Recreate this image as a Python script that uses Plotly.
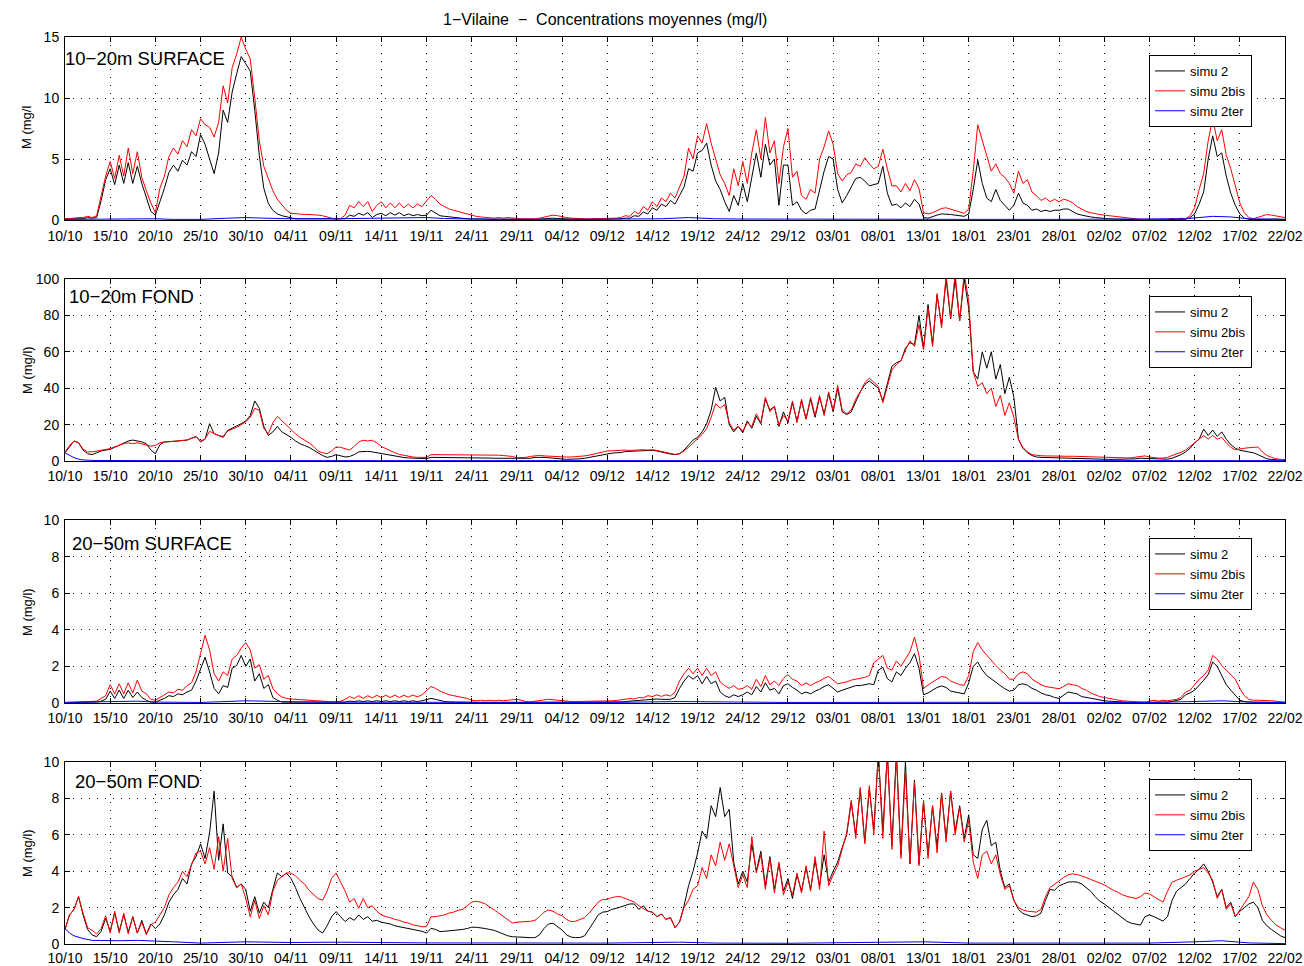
import plotly.graph_objects as go

# ---------------- data (0.5-day sampling) ----------------
TICK_LABELS = ["10/10", "15/10", "20/10", "25/10", "30/10", "04/11", "09/11", "14/11",
               "19/11", "24/11", "29/11", "04/12", "09/12", "14/12", "19/12", "24/12",
               "29/12", "03/01", "08/01", "13/01", "18/01", "23/01", "28/01", "02/02",
               "07/02", "12/02", "17/02", "22/02"]
TICK_DAYS = [0, 5, 10, 15, 20, 25, 30, 35, 40, 45, 50, 55, 60, 65, 70, 75, 80, 85, 90,
             95, 100, 105, 110, 115, 120, 125, 130, 135]
N_SAMPLES = 271
SAMPLE_STEP = 0.5
SERIES_NAMES = ["simu 2", "simu 2bis", "simu 2ter"]
PANEL_TITLES = ["10\u221220m SURFACE", "10\u221220m FOND", "20\u221250m SURFACE", "20\u221250m FOND"]
Y_TITLES = ["M (mg/l", "M (mg/l)", "M (mg/l)", "M (mg/l)"]
Y_MAX = [15, 100, 10, 10]
Y_TICKS = [[0, 5, 10, 15], [0, 20, 40, 60, 80, 100], [0, 2, 4, 6, 8, 10], [0, 2, 4, 6, 8, 10]]

# Panel 1 : 10-20m SURFACE
P1_SIMU2 = [
    0.1, 0.1, 0.1, 0.15, 0.1, 0.2, 0.15, 0.2, 1.6, 3.3,
    4.2, 2.9, 4.5, 3.0, 4.7, 3.0, 4.4, 3.0, 1.9, 0.7,
    0.4, 1.5, 2.6, 3.9, 4.5, 4.0, 4.9, 4.5, 5.6, 5.2,
    7.0, 6.2, 4.9, 3.8, 5.5, 9.0, 8.0, 10.5, 12.0, 13.4,
    12.8, 12.2, 9.0, 5.3, 2.6, 1.35, 0.8, 0.5, 0.35, 0.25,
    0.15, 0.1, 0.1, 0.1, 0.1, 0.1, 0.1, 0.1, 0.1, 0.1,
    0.05, 0.05, 0.1, 0.4, 0.3, 0.55, 0.4, 0.6, 0.2, 0.45,
    0.55, 0.35, 0.6, 0.4, 0.6, 0.35, 0.5, 0.35, 0.45, 0.35,
    0.4, 0.8, 0.55, 0.35, 0.3, 0.25, 0.2, 0.15, 0.12, 0.1,
    0.1, 0.08, 0.07, 0.06, 0.06, 0.05, 0.06, 0.05, 0.06, 0.05,
    0.05, 0.05, 0.05, 0.05, 0.05, 0.08, 0.1, 0.12, 0.15, 0.12,
    0.1, 0.07, 0.05, 0.05, 0.05, 0.05, 0.05, 0.05, 0.05, 0.05,
    0.05, 0.05, 0.08, 0.1, 0.15, 0.15, 0.35, 0.3, 0.65, 0.5,
    1.0, 0.8, 1.3, 1.1, 1.6, 1.3, 2.0, 2.7, 4.2, 4.0,
    5.5, 5.7, 6.3, 4.5, 3.2, 2.5, 1.5, 0.7, 2.0, 1.2,
    3.0, 1.5, 3.5, 5.5, 3.5, 6.2, 4.5, 5.0, 1.2, 4.5,
    4.5, 1.2, 1.5, 0.8, 0.5, 0.8, 0.9, 2.5, 4.0, 5.2,
    5.0, 2.5, 1.4, 2.0, 2.7, 3.4, 3.5, 3.2, 2.8, 2.9,
    3.0, 4.4, 2.2, 1.2, 1.3, 1.0, 1.4, 1.1, 1.7, 1.3,
    0.2, 0.15, 0.3, 0.4, 0.5, 0.5, 0.45, 0.4, 0.35, 0.3,
    0.5, 2.5, 4.9, 3.0, 1.8, 1.5, 2.5, 1.6, 1.2, 0.8,
    1.2, 2.2, 1.4, 1.2, 0.8, 0.9, 0.7, 0.8, 0.7, 0.8,
    0.8, 0.9, 0.9, 0.7, 0.5, 0.4, 0.3, 0.25, 0.2, 0.15,
    0.12, 0.1, 0.08, 0.06, 0.05, 0.04, 0.03, 0.02, 0.02, 0.02,
    0.02, 0.02, 0.02, 0.03, 0.03, 0.03, 0.04, 0.05, 0.06, 0.2,
    0.5, 1.3, 2.3, 5.0, 6.9, 5.2, 5.5, 3.6, 2.2, 1.2,
    0.5, 0.15, 0.05, 0.03, 0.05, 0.08, 0.1, 0.1, 0.08, 0.06,
    0.05]
P1_SIMU2BIS = [
    0.1, 0.1, 0.15, 0.2, 0.2, 0.3, 0.2, 0.35, 1.9, 3.6,
    4.8, 3.4, 5.3, 3.6, 5.9, 3.8, 5.6, 3.5, 2.4, 1.4,
    0.6, 2.6, 3.6, 5.2, 5.9, 5.4, 6.5, 6.0, 7.4, 6.9,
    8.3, 7.8, 7.6, 6.8, 8.0, 11.0, 9.6, 12.5, 13.6, 15.0,
    14.0, 13.2, 10.0, 6.5, 4.4, 3.4, 2.4, 1.7, 1.25, 0.8,
    0.55, 0.5, 0.45, 0.45, 0.45, 0.45, 0.4, 0.35, 0.25, 0.15,
    0.05, 0.1, 0.4, 1.2, 1.0, 1.5, 1.1, 1.5, 0.7, 1.2,
    1.5, 1.0, 1.4, 1.0, 1.4, 1.0, 1.3, 1.0, 1.3, 1.1,
    1.6, 2.0, 1.7, 1.3, 1.1, 0.9, 0.8, 0.7, 0.6, 0.5,
    0.35, 0.3, 0.25, 0.2, 0.2, 0.15, 0.2, 0.15, 0.2, 0.15,
    0.15, 0.1, 0.1, 0.08, 0.1, 0.15, 0.25, 0.35, 0.4, 0.35,
    0.25, 0.2, 0.15, 0.12, 0.1, 0.1, 0.1, 0.1, 0.1, 0.1,
    0.1, 0.1, 0.15, 0.2, 0.35, 0.3, 0.7, 0.5, 1.1, 0.8,
    1.5, 1.1, 1.8, 1.5, 2.2, 1.8, 2.7, 3.6, 5.9, 5.0,
    6.9, 6.3, 7.9, 6.3, 5.0, 3.7, 3.0, 2.0, 4.2, 2.8,
    4.8, 3.0, 5.5, 7.4, 5.0, 8.4, 5.5, 6.5, 3.0, 6.0,
    7.5, 3.5, 4.0, 2.0, 1.7, 2.5, 2.2, 5.0, 6.0, 7.3,
    6.2, 3.8, 3.2, 3.7, 3.9, 4.6, 4.4, 5.1, 4.6, 4.2,
    4.4, 5.8, 4.2, 2.8, 2.8, 2.3, 3.0, 2.4, 3.3, 2.6,
    0.6, 0.5, 0.6, 0.8, 0.95, 1.0, 0.9, 0.8, 0.65, 0.55,
    0.9, 4.0, 7.8, 6.6, 5.2, 4.0, 4.6, 3.8, 3.5, 3.0,
    2.2, 4.0, 3.0, 3.3, 2.3, 2.0, 1.6, 1.8, 1.5, 1.7,
    1.5, 1.7, 1.6, 1.4, 1.1, 0.9, 0.7, 0.6, 0.5, 0.45,
    0.4, 0.35, 0.3, 0.25, 0.2, 0.15, 0.1, 0.08, 0.05, 0.05,
    0.05, 0.08, 0.05, 0.1, 0.06, 0.12, 0.08, 0.15, 0.1, 0.35,
    1.0, 2.5, 3.8, 6.5, 8.3, 6.5, 7.4, 5.3, 4.2, 2.8,
    1.4, 0.6, 0.2, 0.1, 0.2, 0.35, 0.45, 0.4, 0.35, 0.3,
    0.2]
P1_TER_DAYS = [0, 3, 5, 8, 10, 12, 15, 18, 20, 22, 25, 30, 35, 38, 40, 42, 45, 55, 60, 66,
               69, 72, 75, 85, 90, 100, 110, 120, 124, 127, 129, 131, 135]
P1_SIMU2TER = [0.05, 0.08, 0.1, 0.12, 0.1, 0.05, 0.05, 0.15, 0.2, 0.15, 0.1, 0.1, 0.12, 0.18,
               0.2, 0.12, 0.08, 0.05, 0.05, 0.1, 0.2, 0.1, 0.08, 0.05, 0.05, 0.05, 0.05, 0.05,
               0.1, 0.3, 0.25, 0.1, 0.05]

# Panel 2 : 10-20m FOND
P2_SIMU2 = [
    4.5, 8, 11, 10, 6, 4, 3.5, 4.5, 5.5, 6,
    6.4, 7.5, 8.6, 9.5, 11, 11.5, 11, 10.5, 9.5, 6,
    4, 9, 10.4, 10.5, 10.8, 11, 11.3, 11.5, 12.5, 13.5,
    10.5, 12, 20.5, 15, 14, 13, 16.8, 18, 19, 20.5,
    22, 25, 33, 29, 19, 14, 16, 19, 16, 14.5,
    13, 11, 9.5, 8.5, 7.5, 6, 4.5, 3, 2, 2.5,
    3.5, 2.8, 2.2, 2.5, 3.5, 5, 5.3, 5.3, 5, 4.5,
    4, 3.5, 3, 2.6, 2.2, 1.9, 1.7, 1.5, 1.4, 1.3,
    1.3, 2, 2, 1.9, 1.9, 1.9, 2, 1.9, 2, 2,
    2, 1.9, 1.8, 1.7, 1.6, 1.5, 1.5, 1.4, 1.4, 1.3,
    1.3, 1.2, 1.2, 1.5, 2.0, 2.2, 2.0, 1.8, 1.5, 1.2,
    0.9, 0.9, 1.0, 1.0, 1.2, 1.5, 2.0, 2.5, 3.0, 3.5,
    4.0, 4.3, 4.5, 4.6, 5.2, 5.3, 5.5, 5.7, 5.8, 5.9,
    5.9, 5.5, 4.8, 4.2, 3.8, 3.5, 4.0, 6.0, 8.5, 11.5,
    13, 16, 20.5, 28, 40.5, 33, 35, 20, 16, 19,
    15.5, 22, 18, 24.5, 20.5, 34, 28, 30, 19, 27,
    21, 32, 22, 33, 23, 34, 24, 35, 26, 37,
    27, 40, 27, 25.5, 27, 33, 38, 42, 44, 42,
    40, 33, 42, 52, 54, 55, 62, 65, 64, 80,
    62, 86, 64, 91, 75, 100, 78, 100, 77, 100,
    84, 49, 45, 60, 51, 60, 45, 53, 37, 46,
    35, 12, 7, 4.5, 3, 2.2, 2, 1.9, 1.8, 1.8,
    1.8, 1.7, 1.7, 1.6, 1.5, 1.4, 1.3, 1.2, 1.1, 1.0,
    0.9, 0.9, 0.9, 0.9, 0.9, 0.9, 1.0, 1.2, 1.5, 1.4,
    1.2, 1.0, 0.9, 0.9, 1.0, 1.5, 2.5, 3.5, 5, 7,
    10, 12, 17.5, 14, 17, 13.5, 16, 12, 9, 7,
    5.9, 5.5, 5, 4.5, 3.5, 2.2, 1.2, 0.8, 0.6, 0.5,
    0.4]
P2_SIMU2BIS = [
    5, 8.5, 11, 10, 6.5, 5, 5, 5.5, 6, 6.5,
    6.8, 7.8, 8.8, 9.5, 10, 9.5, 10, 9.5, 8.8, 8.2,
    8.5, 10, 10.5, 10.5, 10.8, 11, 11.3, 11.5, 12.5, 13.2,
    11, 12, 16.3, 15, 14, 13.5, 16.5, 17.5, 18.5, 20,
    21.5, 24, 29, 27.8, 18, 15, 21, 24.5, 22, 19.5,
    17.5, 15, 13, 11.5, 10, 8, 5.5, 4.5, 4, 5.5,
    7.7, 7.5, 6.8, 6, 8, 10.5, 11.4, 11, 11.4, 10,
    8, 6.8, 5.5, 4.5, 3.6, 3, 2.6, 2.2, 2, 1.8,
    2, 3.5, 3.5, 3.3, 3.3, 3.2, 3.3, 3.2, 3.4, 3.5,
    3.5, 3.4, 3.5, 3.3, 3.4, 3.2, 3.2, 3, 2.8, 2.5,
    1.8, 1.8, 2.0, 2.5, 3.0, 3.1, 2.8, 2.6, 2.4, 2.3,
    2.2, 2.2, 2.2, 2.3, 2.5, 2.8, 3.2, 3.8, 4.4, 5.0,
    5.5, 5.6, 5.8, 5.6, 6.0, 5.8, 6.0, 5.9, 6.2, 6.0,
    6.2, 5.8, 5.2, 4.6, 4.0, 3.6, 4.0, 5.5, 7.5, 10.0,
    12, 14.5, 17.8, 24, 31.5, 29, 31, 21, 17, 19,
    16.5, 21, 19, 26, 21, 35, 27, 30, 19.5, 25,
    22, 33, 21, 34, 23, 35, 25, 36, 25, 38,
    28, 41.6, 28, 26, 28, 34, 38, 43, 45.5, 43,
    41, 32, 41, 50, 53, 55, 61, 66, 63, 75,
    61, 84, 63, 92, 73, 102, 79, 103, 77, 103,
    88, 49, 41, 43, 37, 40, 30, 36, 25, 32,
    24, 12, 7.5, 5, 3.5, 3.1, 2.9, 2.8, 2.7, 2.7,
    2.7, 2.7, 2.6, 2.6, 2.5, 2.4, 2.3, 2.2, 2.1, 2.0,
    1.9, 1.8, 1.8, 1.7, 1.7, 1.7, 1.8, 2.2, 2.7, 2.8,
    2.2, 1.7, 1.6, 1.6, 2, 3, 3.8, 4.8, 6, 8,
    9.5, 11.5, 14, 12, 14, 12, 13, 10, 7.5, 6.2,
    6.8, 7, 7.3, 7.5, 7.7, 5, 3, 2, 1.2, 0.9,
    0.8]
P2_TER_DAYS = [0, 0.5, 1, 1.5, 2, 3, 5, 10, 30, 60, 70, 90, 100, 110, 125, 128, 135]
P2_SIMU2TER = [4.5, 3, 1.8, 1, 0.6, 0.3, 0.2, 0.2, 0.2, 0.2, 0.3, 0.2, 0.2, 0.2, 0.3, 0.5, 0.2]

# Panel 3 : 20-50m SURFACE
P3_SIMU2 = [
    0.02, 0.02, 0.03, 0.03, 0.03, 0.04, 0.05, 0.05, 0.1, 0.2,
    0.65, 0.25, 0.7, 0.25, 0.7, 0.3, 0.6, 0.3, 0.15, 0.05,
    0.05, 0.15, 0.25, 0.4, 0.35, 0.5, 0.45, 0.6, 0.7, 1.2,
    1.9, 2.5, 1.7, 0.8, 0.5, 0.95, 0.85, 1.9, 2.05, 2.6,
    2.0, 2.4, 1.2, 1.6, 0.8, 1.0, 0.3, 0.15, 0.05, 0.05,
    0.03, 0.03, 0.03, 0.03, 0.03, 0.03, 0.03, 0.03, 0.03, 0.03,
    0.03, 0.03, 0.05, 0.1, 0.08, 0.12, 0.08, 0.12, 0.08, 0.12,
    0.08, 0.12, 0.08, 0.12, 0.08, 0.12, 0.08, 0.12, 0.08, 0.12,
    0.2, 0.25, 0.2, 0.12, 0.08, 0.06, 0.05, 0.04, 0.04, 0.03,
    0.03, 0.03, 0.03, 0.03, 0.03, 0.03, 0.03, 0.03, 0.03, 0.03,
    0.03, 0.03, 0.02, 0.02, 0.03, 0.05, 0.06, 0.06, 0.05, 0.04,
    0.03, 0.03, 0.03, 0.03, 0.03, 0.03, 0.03, 0.03, 0.03, 0.03,
    0.03, 0.04, 0.05, 0.06, 0.08, 0.1, 0.1, 0.12, 0.15, 0.18,
    0.2, 0.22, 0.2, 0.22, 0.2, 0.3, 0.8, 1.2, 1.5, 1.3,
    1.5, 1.05, 1.45, 1.05, 1.2, 0.6, 0.4, 0.3, 0.45, 0.35,
    0.45, 0.6, 0.45, 0.9, 0.6, 1.1, 0.7, 0.8, 0.5, 0.95,
    1.05, 0.85, 0.7, 0.5, 0.6, 0.5, 0.65, 0.75, 0.9, 1.0,
    0.8, 0.6, 0.7, 0.78, 0.85, 0.95, 0.95, 1.0, 1.05, 1.0,
    1.8, 1.95, 1.33, 1.15, 1.7, 1.5, 1.9, 2.2, 2.7, 1.9,
    0.45, 0.55, 0.7, 0.85, 0.93, 0.85, 0.65, 0.6, 0.55, 0.5,
    1.1, 2.0, 2.24, 1.8, 1.5, 1.3, 1.15, 0.95, 0.78, 0.65,
    0.7, 1.0, 1.05, 0.97, 0.8, 0.7, 0.55, 0.45, 0.4, 0.3,
    0.25, 0.45, 0.6, 0.55, 0.5, 0.35, 0.3, 0.25, 0.2, 0.15,
    0.12, 0.1, 0.08, 0.06, 0.05, 0.04, 0.03, 0.03, 0.03, 0.03,
    0.03, 0.03, 0.03, 0.04, 0.05, 0.08, 0.12, 0.2, 0.45, 0.55,
    0.7, 0.95, 1.24, 1.55, 2.24, 2.0, 1.5, 1.0, 0.7, 0.4,
    0.15, 0.08, 0.05, 0.04, 0.04, 0.04, 0.04, 0.03, 0.03, 0.03,
    0.03]
P3_SIMU2BIS = [
    0.03, 0.04, 0.05, 0.05, 0.06, 0.07, 0.08, 0.1, 0.25, 0.4,
    1.0, 0.5, 1.05, 0.5, 1.1, 0.55, 1.25, 0.65, 0.5, 0.2,
    0.15, 0.3, 0.45, 0.6, 0.55, 0.75, 0.7, 0.95, 1.1, 1.7,
    2.7, 3.7, 2.9, 1.6, 1.2, 1.7, 1.5, 2.4, 2.6, 3.0,
    3.3, 2.9, 1.9, 2.1, 1.3, 1.5, 0.8, 0.5, 0.33, 0.25,
    0.22, 0.2, 0.18, 0.16, 0.14, 0.12, 0.1, 0.09, 0.08, 0.06,
    0.05, 0.1, 0.2, 0.35, 0.25, 0.4, 0.25, 0.4, 0.28, 0.42,
    0.3, 0.42, 0.3, 0.43, 0.3, 0.42, 0.32, 0.44, 0.33, 0.45,
    0.7, 0.9, 0.8, 0.65, 0.55, 0.45, 0.4, 0.35, 0.3, 0.25,
    0.15, 0.12, 0.15, 0.12, 0.15, 0.12, 0.15, 0.12, 0.15, 0.18,
    0.2, 0.15, 0.08, 0.07, 0.1, 0.15, 0.18, 0.2, 0.18, 0.15,
    0.1, 0.09, 0.08, 0.08, 0.08, 0.08, 0.08, 0.09, 0.1, 0.1,
    0.1, 0.12, 0.14, 0.18, 0.2, 0.24, 0.22, 0.3, 0.28, 0.4,
    0.35, 0.45, 0.36, 0.45, 0.38, 0.6, 1.2, 1.6, 1.9, 1.6,
    1.9, 1.5, 1.9, 1.5, 1.7, 1.15, 0.95, 0.8, 0.95, 0.75,
    0.8, 0.95, 0.75, 1.3, 0.9, 1.5, 1.0, 1.2, 0.95, 1.35,
    1.55, 1.3, 1.2, 0.95, 1.1, 0.95, 1.1, 1.2, 1.35, 1.45,
    1.25, 1.05, 1.1, 1.15, 1.25, 1.3, 1.35, 1.4, 1.5, 2.2,
    2.4, 2.6, 1.9, 1.8, 2.3, 2.0, 2.4, 2.8, 3.6, 2.6,
    0.8, 1.0, 1.15, 1.3, 1.45, 1.4, 1.2, 1.1, 1.0, 0.97,
    1.5, 2.8, 3.3, 2.9, 2.6, 2.3, 2.05, 1.8, 1.6, 1.3,
    1.3, 1.6, 1.7, 1.6, 1.3, 1.15, 1.0, 0.9, 0.85, 0.8,
    0.78, 0.9, 1.05, 1.0, 0.95, 0.8, 0.7, 0.55, 0.45, 0.35,
    0.3, 0.25, 0.2, 0.15, 0.12, 0.1, 0.08, 0.06, 0.05, 0.05,
    0.1, 0.15, 0.1, 0.15, 0.12, 0.15, 0.2, 0.3, 0.6, 0.7,
    0.97, 1.3, 1.5, 1.8, 2.6, 2.4, 2.05, 1.8, 1.5, 1.3,
    0.8, 0.4, 0.2, 0.15, 0.15, 0.15, 0.15, 0.12, 0.1, 0.08,
    0.05]
P3_TER_DAYS = [0, 5, 8, 10, 15, 20, 23, 27, 35, 45, 60, 68, 72, 80, 100, 120, 125, 128, 131, 135]
P3_SIMU2TER = [0.03, 0.08, 0.1, 0.05, 0.03, 0.12, 0.1, 0.05, 0.04, 0.03, 0.03, 0.08, 0.05,
               0.03, 0.04, 0.03, 0.08, 0.12, 0.05, 0.02]

# Panel 4 : 20-50m FOND
P4_SIMU2 = [
    0.8, 1.6, 1.9, 2.6, 1.6, 0.8, 0.5, 0.4, 0.7, 1.4,
    0.7, 1.7, 0.7, 1.6, 0.65, 1.5, 0.6, 1.3, 0.55, 1.1,
    0.85, 1.1, 1.6, 2.3, 2.7, 3.0, 3.6, 3.3, 4.4, 4.8,
    5.5, 4.7, 6.1, 8.4, 4.6, 6.6, 3.9, 3.7, 3.1, 3.3,
    3.0, 1.8, 2.6, 1.7, 2.3, 2.0, 3.0, 3.9, 3.7, 3.9,
    3.6, 3.1, 2.5, 2.0, 1.5, 1.1, 0.77, 0.6, 1.0, 1.5,
    1.78, 1.5, 1.23, 1.45, 1.3, 1.6, 1.35, 1.5, 1.25, 1.3,
    1.2, 1.15, 1.1, 1.0, 0.95, 0.9, 0.85, 0.8, 0.75, 0.7,
    0.6, 0.86, 0.8, 0.68, 0.7, 0.72, 0.75, 0.77, 0.8, 0.85,
    0.92, 0.92, 0.9, 0.85, 0.8, 0.75, 0.65, 0.55, 0.45, 0.4,
    0.38, 0.36, 0.35, 0.35, 0.35, 0.5, 0.85, 1.1, 1.14, 0.95,
    0.77, 0.5, 0.38, 0.35, 0.36, 0.45, 0.8, 1.2, 1.6, 1.75,
    1.78, 1.9, 1.96, 2.05, 2.14, 2.2, 2.2, 1.9, 2.1, 1.8,
    1.75, 1.5, 1.65, 1.35, 1.45, 0.9, 1.2, 2.1, 3.2, 4.0,
    5.0, 6.2, 5.8, 7.6, 7.0, 8.6, 7.0, 7.4, 4.5, 3.3,
    4.0, 3.4, 5.5, 4.0, 5.1, 3.2, 4.8, 3.0, 4.4, 2.9,
    3.6, 2.5, 3.8, 2.9, 4.2, 3.0, 4.6, 3.2, 4.9, 3.4,
    4.0, 4.5, 5.3, 6.0, 7.8, 6.0, 8.5, 5.6, 8.5, 6.3,
    10.5, 6.2, 10.5, 5.4, 10.5, 4.9, 10.0, 4.4, 9.0, 4.4,
    7.8, 4.9, 7.6, 5.3, 8.3, 5.8, 8.4, 6.2, 7.6, 5.8,
    7.1, 4.9, 4.7, 6.3, 6.8, 5.4, 5.6, 4.0, 3.1, 3.3,
    2.4, 1.9, 1.68, 1.6, 1.5, 1.55, 1.7, 2.4, 3.0, 2.95,
    3.2, 3.3, 3.4, 3.42, 3.4, 3.3, 3.1, 2.9, 2.6, 2.35,
    2.2, 2.0, 1.8, 1.6, 1.4, 1.25, 1.14, 1.1, 1.04, 1.5,
    1.6, 1.5, 1.4, 1.26, 1.5, 2.4, 2.9, 3.1, 3.3, 3.6,
    3.9, 4.1, 4.4, 4.0, 3.4, 2.6, 3.0, 2.0, 2.3, 1.5,
    1.8, 2.0, 2.2, 2.3, 2.0, 1.3, 1.0, 0.8, 0.6, 0.45,
    0.35]
P4_SIMU2BIS = [
    0.8, 1.6, 1.9, 2.6, 1.7, 0.9, 0.75, 0.55, 0.85, 1.55,
    0.6, 1.8, 0.6, 1.7, 0.55, 1.5, 0.6, 1.2, 0.5, 1.05,
    1.2, 1.6, 2.0, 2.7, 3.1, 3.4, 4.0, 3.7, 4.4, 5.0,
    5.1, 4.4, 5.3, 4.1, 5.9, 4.0, 5.8, 3.6, 3.1, 3.3,
    2.5, 1.5, 2.4, 1.4, 2.1, 1.6, 2.9, 3.5, 3.7, 3.9,
    3.9, 3.75, 3.5, 3.3, 2.95, 2.7, 2.5, 2.4, 2.9, 3.6,
    3.9, 3.4, 2.9, 2.3, 2.5, 1.96, 2.5, 2.0, 2.1, 1.8,
    1.6, 1.5, 1.45, 1.35, 1.3, 1.2, 1.15, 1.05, 1.0, 0.95,
    0.95, 1.5, 1.5, 1.55, 1.6, 1.7, 1.75, 1.85, 1.9, 2.1,
    2.3, 2.35, 2.3, 2.2, 2.05, 1.87, 1.7, 1.5, 1.3, 1.15,
    1.2, 1.2, 1.23, 1.25, 1.3, 1.5, 1.75, 1.87, 1.8, 1.65,
    1.55, 1.35, 1.23, 1.25, 1.35, 1.45, 1.7, 2.0, 2.3, 2.45,
    2.45, 2.55, 2.6, 2.6, 2.5, 2.4, 2.3, 2.1, 1.96, 1.8,
    1.75, 1.5, 1.65, 1.35, 1.45, 0.9, 1.2, 2.0, 2.4, 3.0,
    3.2, 4.2, 3.6, 4.9, 4.3, 5.6, 4.6, 5.5, 4.3, 3.1,
    3.8, 3.1, 5.9, 3.9, 4.9, 3.0, 4.7, 2.8, 4.5, 2.7,
    3.4, 2.7, 3.9, 2.8, 4.3, 2.9, 4.8, 3.0, 6.2, 3.2,
    3.8, 4.3, 5.2, 6.1, 7.9, 5.8, 8.6, 5.5, 8.7, 6.0,
    10.5, 5.8, 10.5, 5.2, 10.3, 4.7, 9.5, 4.4, 8.9, 4.3,
    7.9, 4.7, 7.6, 5.0, 8.3, 5.6, 8.4, 6.0, 7.5, 5.6,
    6.8, 4.5, 3.6, 4.9, 5.1, 4.4, 4.9, 3.8, 3.0, 3.2,
    2.4, 2.0, 1.87, 1.8, 1.78, 1.75, 1.9, 2.6, 3.1, 3.3,
    3.5, 3.65, 3.8, 3.85, 3.82, 3.75, 3.65, 3.55, 3.45, 3.35,
    3.25, 3.1, 2.95, 2.85, 2.7, 2.62, 2.55, 2.5, 2.6, 2.8,
    2.75, 2.6, 2.45, 2.3, 2.9, 3.4, 3.5, 3.6, 3.7, 3.8,
    4.0, 4.1, 4.2, 3.9, 3.5, 2.5, 3.0, 1.9, 2.2, 1.5,
    1.87, 2.2, 2.6, 3.4, 3.0, 2.1, 1.6, 1.3, 1.05, 0.9,
    0.75]
P4_TER_DAYS = [0, 0.5, 1, 2, 3, 4, 6, 8, 10, 12, 15, 20, 25, 30, 40, 50, 60, 68, 72, 80,
               95, 100, 110, 120, 125, 128, 131, 135]
P4_SIMU2TER = [0.85, 0.6, 0.45, 0.3, 0.2, 0.18, 0.18, 0.2, 0.18, 0.12, 0.05, 0.12, 0.08,
               0.1, 0.06, 0.05, 0.05, 0.1, 0.05, 0.04, 0.12, 0.05, 0.04, 0.05, 0.12, 0.18,
               0.06, 0.02]

# ---------------- figure ----------------
DAYS = [k * SAMPLE_STEP for k in range(N_SAMPLES)]
for arr in (P1_SIMU2, P1_SIMU2BIS, P2_SIMU2, P2_SIMU2BIS, P3_SIMU2, P3_SIMU2BIS, P4_SIMU2, P4_SIMU2BIS):
    assert len(arr) == N_SAMPLES, len(arr)

PANELS = [
    (P1_SIMU2, P1_SIMU2BIS, P1_TER_DAYS, P1_SIMU2TER),
    (P2_SIMU2, P2_SIMU2BIS, P2_TER_DAYS, P2_SIMU2TER),
    (P3_SIMU2, P3_SIMU2BIS, P3_TER_DAYS, P3_SIMU2TER),
    (P4_SIMU2, P4_SIMU2BIS, P4_TER_DAYS, P4_SIMU2TER),
]
COLORS = ["#000000", "#ff0000", "#0000ff"]
FONT = "Liberation Sans, Arial, Helvetica, sans-serif"

W, H = 1304, 966
BOX_L, BOX_R, BOX_T, BOX_B = 65, 1285, 37, 944          # px of the plotting region
ML, MT, MR, MB = BOX_L, BOX_T, W - BOX_R, H - BOX_B
PW, PH = BOX_R - BOX_L, BOX_B - BOX_T


def px_x(x):
    return (x - BOX_L) / PW


def px_y(y):
    return (BOX_B - y) / PH


PANEL_PX = [(37, 220), (279, 461), (520, 703), (762, 944)]   # top, bottom of each plot box
XLABEL_STANDOFF = [3, 2, 2, 1]
LEGEND_TOP = [55, 296, 538, 779]
LABEL_POS = [(63, 58), (67, 297), (70, 543), (73, 781)]
YTITLE_Y = [128, 370, 612, 853]

fig = go.Figure()
layout = dict(
    width=W, height=H,
    margin=dict(l=ML, r=MR, t=MT, b=MB, autoexpand=False),
    paper_bgcolor="white", plot_bgcolor="white",
    font=dict(family=FONT, size=14, color="black"),
    showlegend=True,
    annotations=[],
)

for i, (s2, s2bis, tdays, s2ter) in enumerate(PANELS):
    n = i + 1
    xa = "x" if n == 1 else f"x{n}"
    ya = "y" if n == 1 else f"y{n}"
    lg = "legend" if n == 1 else f"legend{n}"
    fig.add_trace(go.Scatter(x=DAYS, y=s2, mode="lines", name=SERIES_NAMES[0],
                             line=dict(color=COLORS[0], width=1), xaxis=xa, yaxis=ya, legend=lg))
    fig.add_trace(go.Scatter(x=DAYS, y=s2bis, mode="lines", name=SERIES_NAMES[1],
                             line=dict(color=COLORS[1], width=1), xaxis=xa, yaxis=ya, legend=lg))
    fig.add_trace(go.Scatter(x=tdays, y=s2ter, mode="lines", name=SERIES_NAMES[2],
                             line=dict(color=COLORS[2], width=1), xaxis=xa, yaxis=ya, legend=lg))

    top, bot = PANEL_PX[i]
    axis_common = dict(
        showline=True, linecolor="black", linewidth=1, mirror="ticks",
        ticks="inside", ticklen=5, tickcolor="black", tickwidth=1,
        showgrid=True, gridcolor="black", gridwidth=1, griddash="1px,7px",
        zeroline=False, tickfont=dict(family=FONT, size=14, color="black"),
        automargin=False, fixedrange=True,
    )
    layout["xaxis" if n == 1 else f"xaxis{n}"] = dict(
        axis_common, domain=[0, 1], range=[0, 135], anchor=ya,
        tickmode="array", tickvals=TICK_DAYS, ticktext=TICK_LABELS,
        ticklabelstandoff=XLABEL_STANDOFF[i],
    )
    layout["yaxis" if n == 1 else f"yaxis{n}"] = dict(
        axis_common, domain=[px_y(bot), px_y(top)], range=[0, Y_MAX[i]], anchor=xa,
        tickmode="array", tickvals=Y_TICKS[i], ticklabelstandoff=2,
    )
    layout[lg] = dict(
        x=px_x(1252), y=px_y(LEGEND_TOP[i]), xanchor="right", yanchor="top",
        xref="paper", yref="paper",
        bgcolor="white", bordercolor="black", borderwidth=1,
        font=dict(family=FONT, size=13, color="black"),
        itemwidth=30, tracegroupgap=0,
    )
    lx, ly = LABEL_POS[i]
    layout["annotations"].append(dict(
        text=PANEL_TITLES[i], x=px_x(lx), y=px_y(ly), xref="paper", yref="paper",
        xanchor="left", yanchor="middle", showarrow=False,
        font=dict(family=FONT, size=18.5, color="black")))
    layout["annotations"].append(dict(
        text=Y_TITLES[i], x=px_x(27), y=px_y(YTITLE_Y[i]), xref="paper", yref="paper",
        xanchor="center", yanchor="middle", textangle=-90, showarrow=False,
        font=dict(family=FONT, size=13, color="black")))

layout["annotations"].append(dict(
    text="1\u2212Vilaine\u00a0\u00a0\u2212\u00a0\u00a0Concentrations moyennes (mg/l)",
    x=px_x(605), y=px_y(20), xref="paper", yref="paper",
    xanchor="center", yanchor="middle", showarrow=False,
    font=dict(family=FONT, size=16, color="black")))

fig.update_layout(**layout)

# remove the default page margin so the 1304x966 figure fills the window exactly
PAGE_FIX = ("document.body.style.margin='0';"
            "document.body.style.overflow='hidden';"
            "document.documentElement.style.overflow='hidden';")
fig.write_html("out.html", post_script=PAGE_FIX, config={"displayModeBar": False})
